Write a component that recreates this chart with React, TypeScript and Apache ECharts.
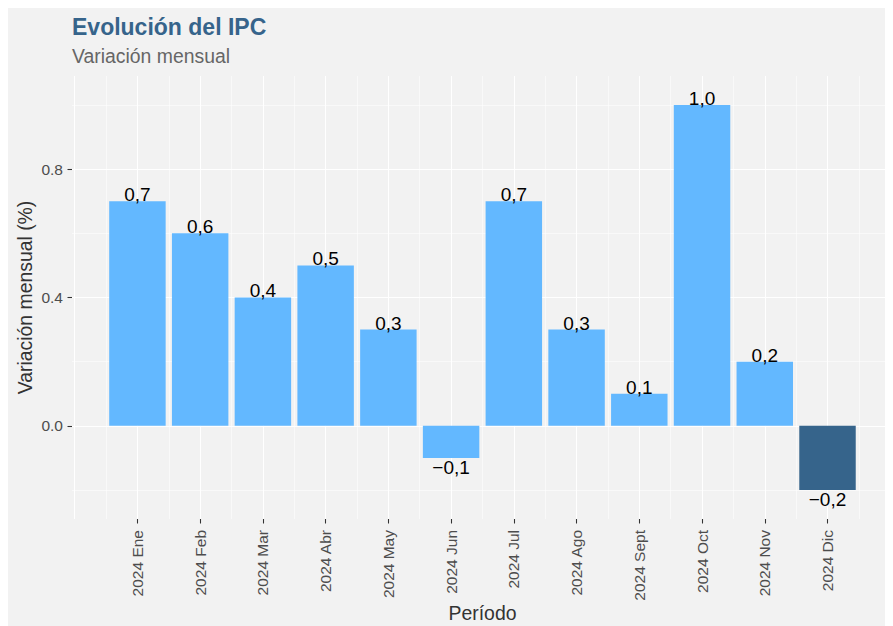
import React, { useEffect, useRef } from "react";
import * as echarts from "echarts";

const categories = [
  "2024 Ene", "2024 Feb", "2024 Mar", "2024 Abr", "2024 May", "2024 Jun",
  "2024 Jul", "2024 Ago", "2024 Sept", "2024 Oct", "2024 Nov", "2024 Dic",
];
const values = [0.7, 0.6, 0.4, 0.5, 0.3, -0.1, 0.7, 0.3, 0.1, 1.0, 0.2, -0.2];
const highlighted = ["2024 Dic"];
const yMajorTicks = [0, 0.4, 0.8];
const yMinorTicks = [-0.2, 0.2, 0.6, 1.0];

const FONT = "Liberation Sans, Arial, sans-serif";
const BG = "#F2F2F2";
const LIGHT = "#63B8FF";
const DARK = "#36648B";

const fmtComma = (v: number) => {
  const s = Math.abs(v).toFixed(1).replace(".", ",");
  return v < 0 ? "\u2212" + s : s;
};

export default function App() {
  const ref = useRef<HTMLDivElement>(null);
  useEffect(() => {
    document.documentElement.style.overflow = "hidden";
    const chart = echarts.init(ref.current!, undefined, { renderer: "svg" });
    const n = categories.length;
    const xMin = -0.043;
    const xMax = n + 1.044;
    const yMin = -0.2905;
    const yMax = 1.0904;
    const gridLeft = 64;
    const gridRight = 0;
    const plotWidth = 885 - gridLeft - gridRight;
    const unit = plotWidth / (xMax - xMin);
    const positions = categories.map((_, i) => i + 1);
    const majorX = [0, ...positions, n + 1];
    const minorX = [0, ...positions].map((p) => p + 0.5);

    const hiddenX = (ticks: number[], w: number) => ({
      type: "value",
      min: xMin,
      max: xMax,
      axisLine: { show: false, onZero: false },
      axisLabel: { show: false },
      axisTick: { show: false, customValues: ticks },
      splitLine: { show: true, lineStyle: { color: "#FFFFFF", width: w } },
    });

    chart.setOption({
      animation: false,
      backgroundColor: BG,
      textStyle: { fontFamily: FONT },
      title: [
        {
          text: "Evolución del IPC",
          left: gridLeft,
          top: 7,
          padding: 0,
          textStyle: { fontSize: 23, fontWeight: "bold", color: DARK, fontFamily: FONT },
        },
        {
          text: "Variación mensual",
          left: gridLeft,
          top: 38.5,
          padding: 0,
          textStyle: { fontSize: 19.4, fontWeight: "normal", color: "#666666", fontFamily: FONT },
        },
      ],
      grid: {
        left: gridLeft,
        right: gridRight,
        top: 68,
        bottom: 107,
        containLabel: false,
        outerBoundsMode: "none",
      },
      xAxis: [
        {
          type: "value",
          min: xMin,
          max: xMax,
          name: "Período",
          nameLocation: "middle",
          nameGap: 84.5,
          nameMoveOverlap: false,
          nameTextStyle: { fontSize: 19.4, color: "#333333", fontFamily: FONT },
          axisLine: { show: false, onZero: false },
          axisTick: {
            show: true,
            customValues: positions,
            length: 4.5,
            lineStyle: { color: "#333333", width: 1.07 },
          },
          axisLabel: {
            show: true,
            customValues: positions,
            rotate: 90,
            margin: 11,
            fontSize: 15.5,
            color: "#4D4D4D",
            fontFamily: FONT,
            formatter: (v: number) => categories[Math.round(v) - 1] ?? "",
          },
          splitLine: { show: false },
        },
        hiddenX(majorX, 1.07),
        hiddenX(minorX, 0.53),
      ],
      yAxis: [
        {
          type: "value",
          min: yMin,
          max: yMax,
          name: "Variación mensual (%)",
          nameLocation: "middle",
          nameGap: 38,
          nameMoveOverlap: false,
          nameTextStyle: { fontSize: 19.4, color: "#333333", fontFamily: FONT },
          axisLine: { show: false, onZero: false },
          axisTick: {
            show: true,
            customValues: yMajorTicks,
            length: 4.5,
            lineStyle: { color: "#333333", width: 1.07 },
          },
          axisLabel: {
            show: true,
            customValues: yMajorTicks,
            margin: 9,
            fontSize: 15.5,
            color: "#4D4D4D",
            fontFamily: FONT,
            formatter: (v: number) => v.toFixed(1),
          },
          splitLine: { show: true, lineStyle: { color: "#FFFFFF", width: 1.07 } },
        },
        {
          type: "value",
          min: yMin,
          max: yMax,
          axisLine: { show: false, onZero: false },
          axisLabel: { show: false },
          axisTick: { show: false, customValues: yMinorTicks },
          splitLine: { show: true, lineStyle: { color: "#FFFFFF", width: 0.53 } },
        },
      ],
      series: [
        {
          type: "bar",
          xAxisIndex: 0,
          yAxisIndex: 0,
          barWidth: unit * 0.9,
          data: values.map((v, i) => ({
            value: [positions[i], v],
            itemStyle: { color: highlighted.includes(categories[i]) ? DARK : LIGHT },
            label: {
              show: true,
              position: v >= 0 ? "top" : "bottom",
              distance: v >= 0 ? -3 : 0,
              formatter: () => fmtComma(v),
              fontSize: 19,
              color: "#000000",
              fontFamily: FONT,
            },
          })),
        },
      ],
    });
    return () => chart.dispose();
  }, []);
  return <div ref={ref} style={{ width: 885, height: 618 }} />;
}
